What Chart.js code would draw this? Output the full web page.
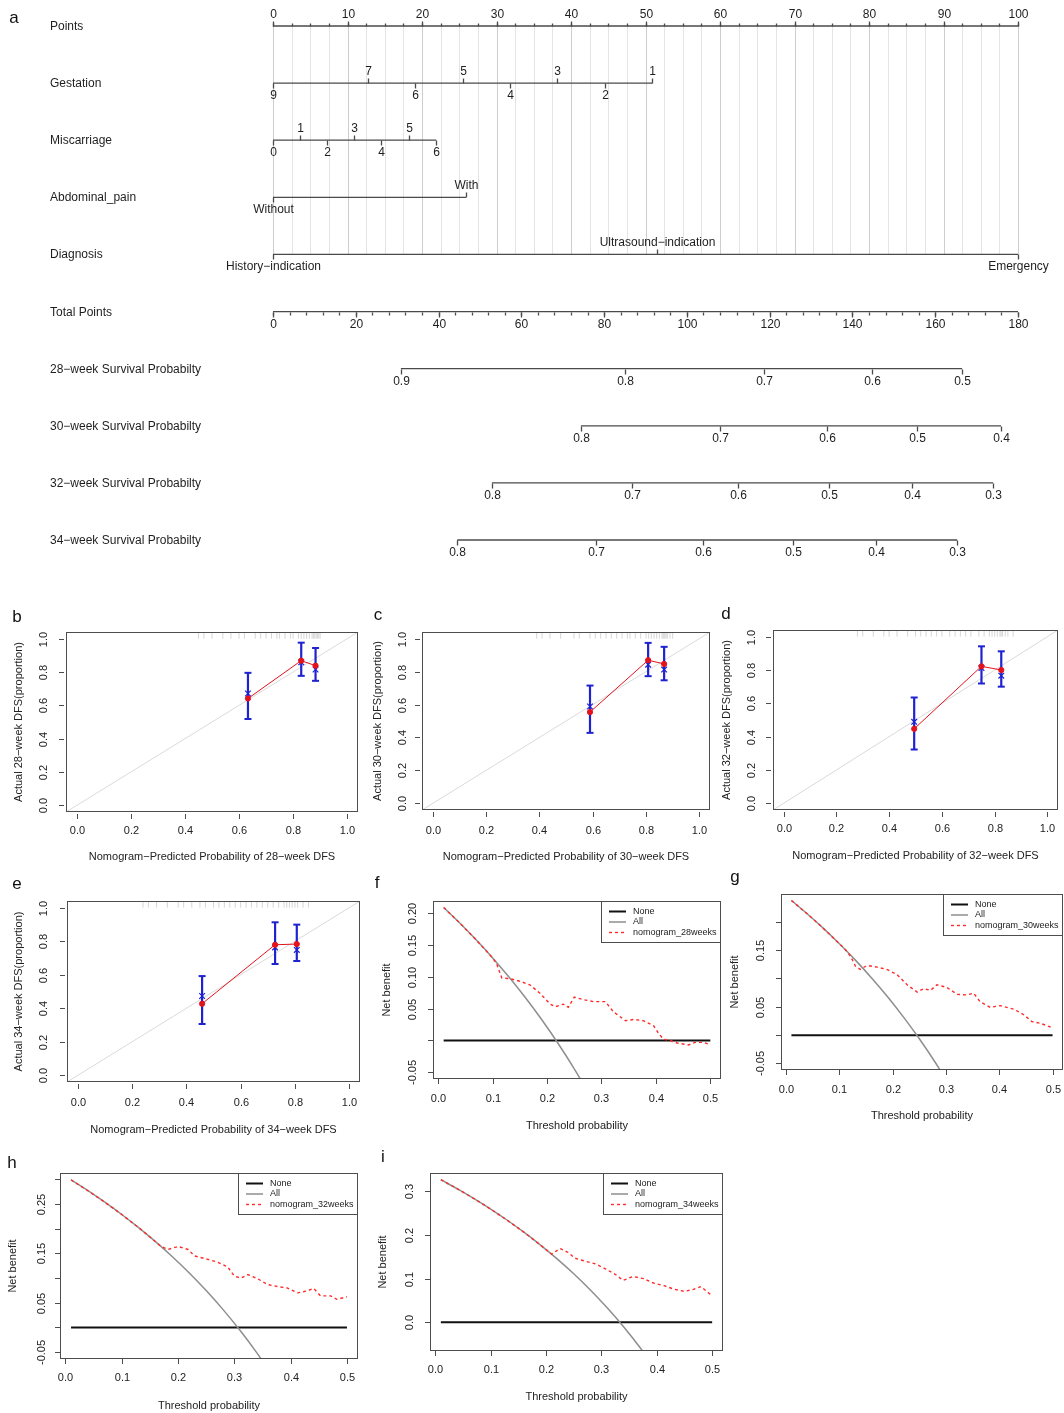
<!DOCTYPE html>
<html>
<head>
<meta charset="utf-8">
<title>Nomogram, calibration and decision curves</title>
<script src="https://cdn.jsdelivr.net/npm/chart.js@4.4.1/dist/chart.umd.min.js"></script>
<style>
  html, body { margin: 0; padding: 0; background: #fff; }
  #page { position: relative; width: 1064px; height: 1413px; overflow: hidden; background: #fff; }
  #page canvas { position: absolute; left: 0; top: 0; }
</style>
</head>
<body>
<div id="page"></div>
<script>
// ---------- panel a : nomogram ----------
const rowNames = ['Points', 'Gestation', 'Miscarriage', 'Abdominal_pain', 'Diagnosis', 'Total Points',
  '28\u2212week Survival Probabilty', '30\u2212week Survival Probabilty',
  '32\u2212week Survival Probabilty', '34\u2212week Survival Probabilty'];
const pointLabels = [0, 10, 20, 30, 40, 50, 60, 70, 80, 90, 100];
const gestationLevels = ['9', '7', '6', '5', '4', '3', '2', '1'];
const gestationPoints = [0, 12.7, 19.1, 25.5, 31.8, 38.1, 44.5, 50.9];
const miscarriageLevels = ['0', '1', '2', '3', '4', '5', '6'];
const miscarriagePoints = [0, 3.6, 7.2, 10.9, 14.5, 18.2, 21.9];
const painLevels = ['Without', 'With'];
const painPoints = [0, 25.9];
const diagnosisLevels = ['History\u2212indication', 'Ultrasound\u2212indication', 'Emergency'];
const diagnosisPoints = [0, 51.6, 100];
const totalLabels = [0, 20, 40, 60, 80, 100, 120, 140, 160, 180];
const surv28Labels = ['0.9', '0.8', '0.7', '0.6', '0.5'];
const surv28Total = [30.9, 85.0, 118.6, 144.7, 166.5];
const surv30Labels = ['0.8', '0.7', '0.6', '0.5', '0.4'];
const surv30Total = [74.4, 108.0, 133.9, 155.6, 175.9];
const surv32Labels = ['0.8', '0.7', '0.6', '0.5', '0.4', '0.3'];
const surv32Total = [52.9, 86.7, 112.3, 134.3, 154.4, 174.0];
const surv34Labels = ['0.8', '0.7', '0.6', '0.5', '0.4', '0.3'];
const surv34Total = [44.5, 78.0, 103.9, 125.6, 145.7, 165.3];

// ---------- panels b-e : calibration ----------
const calTicks = [0, 0.2, 0.4, 0.6, 0.8, 1.0];
const bPred = [0.633, 0.830, 0.883];
const bObs = [0.641, 0.868, 0.838];
const bCorrected = [0.671, 0.858, 0.815];
const bLower = [0.518, 0.777, 0.747];
const bUpper = [0.795, 0.976, 0.944];
const bRug = [0.45, 0.47, 0.50, 0.54, 0.57, 0.60, 0.62, 0.66, 0.68, 0.70, 0.72, 0.74, 0.75, 0.77, 0.79,
  0.80, 0.82, 0.83, 0.84, 0.85, 0.86, 0.87, 0.875, 0.88, 0.885, 0.89, 0.895, 0.90];
const cPred = [0.590, 0.808, 0.868];
const cObs = [0.554, 0.869, 0.846];
const cCorrected = [0.588, 0.842, 0.812];
const cLower = [0.428, 0.772, 0.747];
const cUpper = [0.715, 0.974, 0.950];
const cRug = [0.39, 0.41, 0.44, 0.48, 0.53, 0.55, 0.59, 0.61, 0.63, 0.65, 0.67, 0.69, 0.71, 0.73, 0.74,
  0.76, 0.78, 0.80, 0.81, 0.82, 0.83, 0.84, 0.85, 0.86, 0.865, 0.87, 0.875, 0.88, 0.89, 0.90];
const dPred = [0.495, 0.750, 0.825];
const dObs = [0.447, 0.822, 0.800];
const dCorrected = [0.489, 0.812, 0.766];
const dLower = [0.323, 0.719, 0.700];
const dUpper = [0.635, 0.942, 0.912];
const dRug = [0.28, 0.30, 0.34, 0.38, 0.40, 0.43, 0.47, 0.50, 0.52, 0.54, 0.56, 0.58, 0.60, 0.63, 0.65,
  0.67, 0.69, 0.71, 0.74, 0.76, 0.78, 0.79, 0.80, 0.81, 0.82, 0.825, 0.83, 0.84, 0.85, 0.87];
const ePred = [0.458, 0.727, 0.807];
const eObs = [0.427, 0.779, 0.783];
const eCorrected = [0.473, 0.763, 0.748];
const eLower = [0.306, 0.664, 0.682];
const eUpper = [0.592, 0.913, 0.899];
const eRug = [0.24, 0.26, 0.29, 0.33, 0.37, 0.39, 0.42, 0.45, 0.47, 0.50, 0.52, 0.54, 0.56, 0.58, 0.60,
  0.62, 0.64, 0.66, 0.68, 0.70, 0.72, 0.74, 0.76, 0.77, 0.78, 0.79, 0.80, 0.81, 0.83, 0.85];

// ---------- panels f-i : decision curves ----------
const dcaTicks = [0, 0.1, 0.2, 0.3, 0.4, 0.5];
const noneThreshold = [0.01, 0.5];
const noneBenefit = [0, 0];
const allThreshold = [0.01, 0.04, 0.07, 0.10, 0.13, 0.16, 0.19, 0.22, 0.25, 0.28, 0.31, 0.34, 0.37, 0.40];
const fAll = [0.2087, 0.1840, 0.1576, 0.1296, 0.0995, 0.0674, 0.0328, -0.0044, -0.0445, -0.0881];
const gAll = [0.2376, 0.2138, 0.1884, 0.1613, 0.1324, 0.1014, 0.0682, 0.0323, -0.0064, -0.0483, -0.0939];
const hAll = [0.299, 0.2771, 0.2538, 0.2289, 0.2023, 0.1738, 0.1432, 0.1103, 0.0747, 0.0361, -0.0058, -0.0515, -0.1016];
const iAll = [0.3267, 0.3056, 0.2832, 0.2593, 0.2338, 0.2064, 0.1770, 0.1454, 0.1112, 0.0742, 0.0339, -0.0100, -0.0581, -0.111];
const fThreshold = [0.01, 0.04, 0.07, 0.10, 0.107, 0.117, 0.132, 0.150, 0.169, 0.187, 0.206, 0.215, 0.230, 0.239,
  0.250, 0.267, 0.285, 0.307, 0.322, 0.344, 0.359, 0.377, 0.396, 0.405, 0.414, 0.426, 0.439, 0.460, 0.472, 0.488, 0.500];
const fNomogram = [0.2087, 0.1840, 0.1576, 0.1296, 0.121, 0.098, 0.097, 0.093, 0.087, 0.074, 0.057, 0.053, 0.057, 0.052,
  0.068, 0.064, 0.061, 0.061, 0.045, 0.031, 0.033, 0.031, 0.023, 0.011, 0.002, 0.000, -0.004, -0.007, -0.003, -0.003, -0.007];
const gThreshold = [0.01, 0.04, 0.07, 0.10, 0.111, 0.121, 0.130, 0.139, 0.152, 0.171, 0.189, 0.208, 0.227, 0.246, 0.258,
  0.271, 0.283, 0.302, 0.321, 0.339, 0.352, 0.364, 0.383, 0.402, 0.427, 0.446, 0.461, 0.477, 0.500];
const gNomogram = [0.2376, 0.2138, 0.1884, 0.1613, 0.151, 0.139, 0.122, 0.116, 0.123, 0.120, 0.116, 0.107, 0.089, 0.076, 0.082,
  0.079, 0.089, 0.084, 0.072, 0.071, 0.074, 0.059, 0.049, 0.052, 0.046, 0.036, 0.024, 0.021, 0.013];
const hThreshold = [0.01, 0.04, 0.07, 0.10, 0.13, 0.16, 0.17, 0.182, 0.200, 0.218, 0.229, 0.253, 0.271, 0.288, 0.300,
  0.312, 0.324, 0.341, 0.359, 0.376, 0.394, 0.412, 0.429, 0.441, 0.453, 0.471, 0.482, 0.500];
const hNomogram = [0.299, 0.2771, 0.2538, 0.2289, 0.2023, 0.1738, 0.164, 0.158, 0.164, 0.158, 0.145, 0.138, 0.132, 0.123, 0.104,
  0.100, 0.107, 0.099, 0.087, 0.083, 0.080, 0.070, 0.074, 0.079, 0.064, 0.064, 0.057, 0.062];
const iThreshold = [0.01, 0.04, 0.07, 0.10, 0.13, 0.16, 0.19, 0.21, 0.225, 0.240, 0.252, 0.268, 0.289, 0.308, 0.326,
  0.339, 0.357, 0.376, 0.394, 0.413, 0.431, 0.450, 0.465, 0.480, 0.490, 0.500];
const iNomogram = [0.3267, 0.3056, 0.2832, 0.2593, 0.2338, 0.2064, 0.1770, 0.1562, 0.169, 0.160, 0.147, 0.141, 0.134, 0.122, 0.109,
  0.096, 0.105, 0.100, 0.090, 0.084, 0.076, 0.071, 0.075, 0.082, 0.071, 0.061];

// ---------------------------------------------------------------
const W = 1064, H = 1413;
const FONT = '"Liberation Sans", Arial, Helvetica, sans-serif';
Chart.defaults.font.family = FONT;
Chart.defaults.animation = false;
Chart.defaults.responsive = false;
Chart.defaults.devicePixelRatio = 1;
Chart.defaults.plugins.legend.display = false;
Chart.defaults.plugins.tooltip.enabled = false;

function addCanvas(id) {
  const c = document.createElement('canvas');
  c.id = id; c.width = W; c.height = H;
  document.getElementById('page').appendChild(c);
  return c;
}
function boxPadding(box) {
  return { left: box[0], top: box[1], right: W - box[2], bottom: H - box[3] };
}
function zip(xs, ys) {
  return ys.map((v, i) => ({ x: xs[i], y: v }));
}
function alternate(n) {
  return Array.from({ length: n }, (_, i) => (i % 2 === 0 ? 'down' : 'up'));
}

// nomogram rows: tick positions in the units of their own scale
const nomoRows = [
  { row: 0, axis: 'x', pos: pointLabels, text: pointLabels.map(String), side: pointLabels.map(() => 'up'), minor: 2.5, minorSide: 'up' },
  { row: 1, axis: 'x', pos: gestationPoints, text: gestationLevels, side: alternate(gestationLevels.length) },
  { row: 2, axis: 'x', pos: miscarriagePoints, text: miscarriageLevels, side: alternate(miscarriageLevels.length) },
  { row: 3, axis: 'x', pos: painPoints, text: painLevels, side: ['down', 'up'] },
  { row: 4, axis: 'x', pos: diagnosisPoints, text: diagnosisLevels, side: ['down', 'up', 'down'] },
  { row: 5, axis: 'tp', pos: totalLabels, text: totalLabels.map(String), side: totalLabels.map(() => 'down'), minor: 4, minorSide: 'down' },
  { row: 6, axis: 'tp', pos: surv28Total, text: surv28Labels, side: surv28Labels.map(() => 'down') },
  { row: 7, axis: 'tp', pos: surv30Total, text: surv30Labels, side: surv30Labels.map(() => 'down') },
  { row: 8, axis: 'tp', pos: surv32Total, text: surv32Labels, side: surv32Labels.map(() => 'down') },
  { row: 9, axis: 'tp', pos: surv34Total, text: surv34Labels, side: surv34Labels.map(() => 'down') }
];

const nomoAxes = {
  id: 'nomoAxes',
  beforeDatasetsDraw(chart) {
    const { ctx, scales: { x, y } } = chart;
    const y0 = y.getPixelForValue(0), y1 = y.getPixelForValue(4);
    ctx.save();
    ctx.lineWidth = 1;
    for (let k = 0; k <= 40; k++) {
      const px = Math.round(x.getPixelForValue(k * 2.5)) + 0.5;
      ctx.strokeStyle = k % 4 === 0 ? '#cdcdcd' : '#e4e4e4';
      ctx.beginPath(); ctx.moveTo(px, y0); ctx.lineTo(px, y1); ctx.stroke();
    }
    ctx.restore();
  },
  afterDatasetsDraw(chart) {
    const { ctx, scales } = chart;
    const y = scales.y;
    ctx.save();
    ctx.strokeStyle = '#4a4a4a';
    ctx.lineWidth = 1.3;
    ctx.fillStyle = '#1e1e1e';
    ctx.font = '12px ' + FONT;
    ctx.textBaseline = 'middle';
    nomoRows.forEach(r => {
      const sc = scales[r.axis];
      const py = Math.round(y.getPixelForValue(r.row)) + 0.5;
      if (r.minor) {
        const dir = r.minorSide === 'up' ? -1 : 1;
        for (let v = 0; v <= sc.max + 1e-9; v += r.minor) {
          const px = Math.round(sc.getPixelForValue(v)) + 0.5;
          ctx.beginPath(); ctx.moveTo(px, py); ctx.lineTo(px, py + dir * 3); ctx.stroke();
        }
      }
      ctx.textAlign = 'center';
      r.pos.forEach((v, i) => {
        const px = Math.round(sc.getPixelForValue(v)) + 0.5;
        const up = r.side[i] === 'up';
        ctx.beginPath(); ctx.moveTo(px, py); ctx.lineTo(px, py + (up ? -5 : 5)); ctx.stroke();
        ctx.fillText(r.text[i], px, py + (up ? -11.5 : 12));
      });
      ctx.textAlign = 'left';
      ctx.fillText(rowNames[r.row], 50, py);
    });
    ctx.font = '17px ' + FONT;
    ctx.textAlign = 'center';
    ctx.fillStyle = '#111';
    ctx.fillText('a', 14, 18);
    ctx.restore();
  }
};

new Chart(addCanvas('nomogram'), {
  type: 'line',
  data: {
    datasets: nomoRows.map(r => ({
      xAxisID: r.axis,
      data: [{ x: Math.min(...r.pos), y: r.row }, { x: Math.max(...r.pos), y: r.row }],
      borderColor: '#4a4a4a', borderWidth: 1.3, pointRadius: 0, clip: false
    }))
  },
  options: {
    layout: { padding: { left: 273, right: W - 1018, top: 26, bottom: H - 540 } },
    scales: {
      x: { type: 'linear', display: false, min: 0, max: 100 },
      tp: { type: 'linear', axis: 'x', position: 'bottom', display: false, min: 0, max: 180 },
      y: { type: 'linear', display: false, min: 0, max: 9, reverse: true }
    }
  },
  plugins: [nomoAxes]
});

// R style frame: box, outward ticks, vertical y labels, axis titles, panel letter
const rFrame = {
  id: 'rFrame',
  afterDraw(chart, args, o) {
    const { ctx, chartArea: a, scales: { x, y } } = chart;
    const g = o.gaps;
    ctx.save();
    ctx.strokeStyle = '#4d4d4d';
    ctx.lineWidth = 1;
    ctx.strokeRect(a.left + 0.5, a.top + 0.5, a.right - a.left - 1, a.bottom - a.top - 1);
    ctx.fillStyle = '#222';
    ctx.font = '11px ' + FONT;
    ctx.textAlign = 'center';
    ctx.textBaseline = 'middle';
    o.xTicks.forEach((v, i) => {
      const px = Math.round(x.getPixelForValue(v)) + 0.5;
      ctx.beginPath(); ctx.moveTo(px, a.bottom + o.off); ctx.lineTo(px, a.bottom + o.off + 5); ctx.stroke();
      ctx.fillText(o.xLabels[i], px, a.bottom + g[0]);
    });
    o.yTicks.forEach((v, i) => {
      const py = Math.round(y.getPixelForValue(v)) + 0.5;
      ctx.beginPath(); ctx.moveTo(a.left - o.off - 5, py); ctx.lineTo(a.left - o.off, py); ctx.stroke();
      if (o.yLabels[i]) {
        ctx.save(); ctx.translate(a.left - g[2], py); ctx.rotate(-Math.PI / 2);
        ctx.fillText(o.yLabels[i], 0, 0); ctx.restore();
      }
    });
    ctx.fillText(o.xTitle, (a.left + a.right) / 2, a.bottom + g[1]);
    ctx.save(); ctx.translate(a.left - g[3], (a.top + a.bottom) / 2); ctx.rotate(-Math.PI / 2);
    ctx.fillText(o.yTitle, 0, 0); ctx.restore();
    ctx.font = '17px ' + FONT;
    ctx.fillStyle = '#111';
    ctx.fillText(o.letter, o.letterAt[0], o.letterAt[1]);
    ctx.restore();
  }
};

// legend box in the top right corner of a decision curve
const dcaLegend = {
  id: 'dcaLegend',
  afterDraw(chart) {
    const { ctx, chartArea: a } = chart;
    const items = chart.data.datasets.slice().reverse();
    ctx.save();
    ctx.font = '9px ' + FONT;
    const tw = Math.max(...items.map(d => ctx.measureText(d.label).width));
    const w = Math.round(8 + 17 + 7 + tw + 4), h = 42;
    const x0 = a.right - w, y0 = a.top;
    ctx.fillStyle = '#fff';
    ctx.fillRect(x0, y0, w, h);
    ctx.strokeStyle = '#4d4d4d'; ctx.lineWidth = 1;
    ctx.strokeRect(x0 + 0.5, y0 + 0.5, w - 1, h - 1);
    ctx.textBaseline = 'middle'; ctx.textAlign = 'left';
    items.forEach((d, i) => {
      const yy = y0 + 10.5 + i * 10.5;
      ctx.strokeStyle = d.borderColor; ctx.lineWidth = d.borderWidth;
      ctx.setLineDash(d.borderDash || []);
      ctx.beginPath(); ctx.moveTo(x0 + 8, yy); ctx.lineTo(x0 + 25, yy); ctx.stroke();
      ctx.setLineDash([]);
      ctx.fillStyle = '#222';
      ctx.fillText(d.label, x0 + 32, yy);
    });
    ctx.restore();
  }
};

const calLim = [-0.04, 1.04];
const rugLevel = 1.018;
const blue = '#1f22cf', red = '#e3121c';

function calibration(id, box, pred, obs, corr, lo, hi, rug, week, gaps, letter, letterAt) {
  const datasets = [
    { data: zip(pred, obs), borderColor: red, borderWidth: 1, pointRadius: 2.6,
      pointBackgroundColor: red, pointBorderColor: red },
    { data: zip(pred, corr), showLine: false, pointStyle: 'crossRot', pointRadius: 4,
      pointBorderColor: blue, pointBorderWidth: 1.2 }
  ];
  pred.forEach((p, i) => datasets.push({
    data: [{ x: p, y: lo[i] }, { x: p, y: hi[i] }], borderColor: blue, borderWidth: 2.2,
    pointStyle: 'line', pointRadius: 3.5, pointBorderColor: blue, pointBorderWidth: 2
  }));
  datasets.push({ data: rug.map(v => ({ x: v, y: rugLevel })), showLine: false, pointStyle: 'line',
    pointRotation: 90, pointRadius: 3, pointBorderColor: 'rgba(70,70,70,0.22)', pointBorderWidth: 1 });
  datasets.push({ data: zip(calLim, calLim), borderColor: '#dadada', borderWidth: 1, pointRadius: 0 });
  new Chart(addCanvas(id), {
    type: 'line',
    data: { datasets },
    options: {
      layout: { padding: boxPadding(box) },
      scales: {
        x: { type: 'linear', display: false, min: calLim[0], max: calLim[1] },
        y: { type: 'linear', display: false, min: calLim[0], max: calLim[1] }
      },
      plugins: {
        rFrame: {
          off: 2, gaps, letter, letterAt,
          xTicks: calTicks, xLabels: calTicks.map(v => v.toFixed(1)),
          yTicks: calTicks, yLabels: calTicks.map(v => v.toFixed(1)),
          xTitle: 'Nomogram\u2212Predicted Probability of ' + week + '\u2212week DFS',
          yTitle: 'Actual ' + week + '\u2212week DFS(proportion)'
        }
      }
    },
    plugins: [rFrame]
  });
}

calibration('calB', [66, 632, 358, 812], bPred, bObs, bCorrected, bLower, bUpper, bRug, 28, [19, 45, 22, 47], 'b', [17, 617]);
calibration('calC', [422, 632, 710, 810], cPred, cObs, cCorrected, cLower, cUpper, cRug, 30, [21, 47, 19, 44], 'c', [378, 615]);
calibration('calD', [773, 630, 1062, 810], dPred, dObs, dCorrected, dLower, dUpper, dRug, 32, [19, 46, 21, 46], 'd', [726, 614]);
calibration('calE', [67, 901, 360, 1082], ePred, eObs, eCorrected, eLower, eUpper, eRug, 34, [21, 48, 23, 48], 'e', [17, 884]);

function decision(id, box, yLim, yTicks, yLabels, allNb, thr, nb, week, gaps, letter, letterAt) {
  new Chart(addCanvas(id), {
    type: 'line',
    data: {
      datasets: [
        { label: 'nomogram_' + week + 'weeks', data: zip(thr, nb), borderColor: '#ff2b2b', borderWidth: 1.4,
          borderDash: [3, 3], pointRadius: 0, clip: 0 },
        { label: 'All', data: zip(allThreshold, allNb), borderColor: '#8e8e8e', borderWidth: 1.5,
          pointRadius: 0, cubicInterpolationMode: 'monotone', clip: 0 },
        { label: 'None', data: zip(noneThreshold, noneBenefit), borderColor: '#111', borderWidth: 2,
          pointRadius: 0, clip: 0 }
      ]
    },
    options: {
      layout: { padding: boxPadding(box) },
      scales: {
        x: { type: 'linear', display: false, min: -0.0096, max: 0.5196 },
        y: { type: 'linear', display: false, min: yLim[0], max: yLim[1] }
      },
      plugins: {
        rFrame: {
          off: 0, gaps, letter, letterAt,
          xTicks: dcaTicks, xLabels: dcaTicks.map(v => v.toFixed(1)),
          yTicks, yLabels,
          xTitle: 'Threshold probability', yTitle: 'Net benefit'
        }
      }
    },
    plugins: [rFrame, dcaLegend]
  });
}

decision('dcaF', [433, 901, 721, 1079], [-0.0605, 0.2189], [-0.05, 0, 0.05, 0.10, 0.15, 0.20],
  ['-0.05', '', '0.05', '0.10', '0.15', '0.20'], fAll, fThreshold, fNomogram, 28, [20, 47, 20, 46], 'f', [377, 883]);
decision('dcaG', [781, 894, 1063, 1070], [-0.0615, 0.2491], [-0.05, 0, 0.05, 0.10, 0.15, 0.20],
  ['-0.05', '', '0.05', '', '0.15', ''], gAll, gThreshold, gNomogram, 30, [20, 46, 20, 46], 'g', [735, 877]);
decision('dcaH', [60, 1173, 358, 1359], [-0.064, 0.313], [-0.05, 0, 0.05, 0.10, 0.15, 0.20, 0.25, 0.30],
  ['-0.05', '', '0.05', '', '0.15', '', '0.25', ''], hAll, hThreshold, hNomogram, 32, [19, 47, 18, 47], 'h', [12, 1163]);
decision('dcaI', [430, 1173, 723, 1351], [-0.0656, 0.342], [0, 0.1, 0.2, 0.3],
  ['0.0', '0.1', '0.2', '0.3'], iAll, iThreshold, iNomogram, 34, [19, 46, 20, 47], 'i', [383, 1157]);
</script>
</body>
</html>
